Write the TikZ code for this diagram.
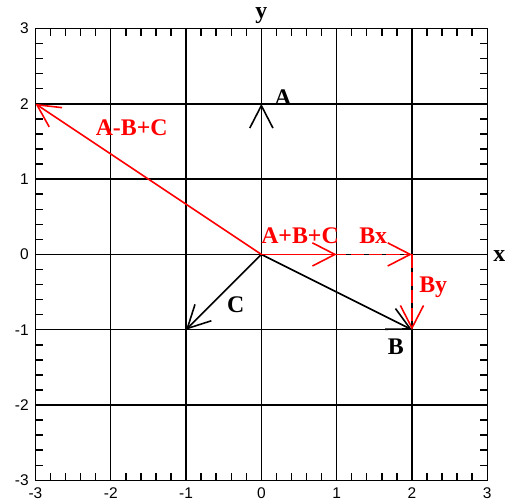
\documentclass[tikz,border=0pt]{standalone}
\usepackage{fontspec}
\setmainfont{Liberation Serif}
\setsansfont{Liberation Sans}
\usetikzlibrary{arrows.meta}

\begin{document}
\begin{tikzpicture}[x=2cm,y=2cm,line width=1.1pt,
        vec/.style={line width=1.2pt,-{Straight Barb[length=17pt,width=17.5pt]}},
        sum/.style={vec,red},
        part/.style={vec,red,dash pattern=on 10pt off 3.5pt},
        lab/.style={font=\bfseries\fontsize{18}{20}\selectfont,anchor=base,inner sep=0pt},
        num/.style={font=\sffamily\fontsize{11.7}{13}\selectfont,inner sep=0pt}]
        \useasboundingbox (-3.471,-3.288) rectangle (3.289,3.379);
        \foreach \k in {-3,...,3}
            \draw (\k,-3) -- (\k,3) (-3,\k) -- (3,\k);
        \draw (-3,-3) rectangle (3,3);
        \foreach \i in {1,...,29}{
            \pgfmathsetmacro{\t}{-3+\i/5}
            \draw (\t,-3) -- (\t,-2.905) (\t,3) -- (\t,2.905)
                  (-3,\t) -- (-2.905,\t) (3,\t) -- (2.905,\t);
        }
        \foreach \k [count=\n] in {-3,...,3}{
            \node[num] (xt\n) at (\k,-3.165) {\k};
            \node[num,anchor=east] (yt\n) at (-3.08,\k) {\k};
        }
        \coordinate (O) at (0,0);
        \coordinate (A) at (0,2);
        \coordinate (B) at (2,-1);
        \coordinate (C) at (-1,-1);
        \coordinate (Bx) at (2,0);
        \coordinate (S) at (1,0);
        \coordinate (D) at (-3,2);
        \draw[vec] (O) -- (A);
        \draw[vec] (O) -- (B);
        \draw[vec] (O) -- (C);
        \draw[part] (O) -- (Bx);
        \draw[part] (Bx) -- (B);
        \draw[sum] (O) -- (S);
        \draw[sum] (O) -- (D);
        \node[lab] (lA) at (0.287,1.981) {A};
        \node[lab] (lB) at (1.785,-1.325) {B};
        \node[lab] (lC) at (-0.34,-0.771) {C};
        \node[lab,text=red] (lD) at (-1.722,1.582) {A-B+C};
        \node[lab,text=red] (lS) at (0.513,0.14) {A+B+C};
        \node[lab,text=red] (lBx) at (1.486,0.14) {Bx};
        \node[lab,text=red] (lBy) at (2.283,-0.505) {By};
        \node[lab] (ly) at (0,3.136) {y};
        \node[lab] (lx) at (3.159,-0.092) {x};
    \end{tikzpicture}
\end{document}
